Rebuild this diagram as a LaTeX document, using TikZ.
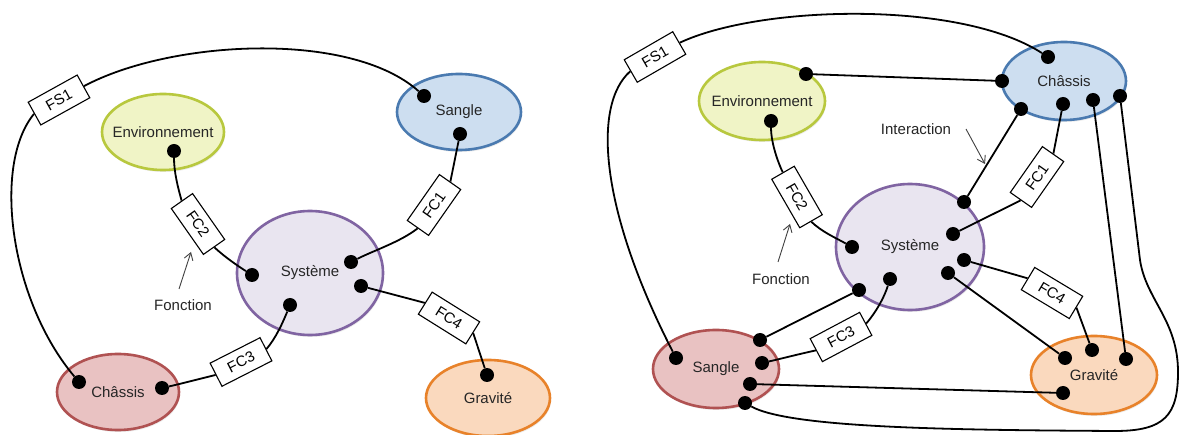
\documentclass[tikz,border=0pt]{standalone}
\usepackage{fontspec}
\setmainfont{Liberation Sans}
\usetikzlibrary{shapes.geometric,arrows.meta,shadows}
\definecolor{envF}{RGB}{240,244,198}
\definecolor{envB}{RGB}{184,200,62}
\definecolor{bluF}{RGB}{205,222,240}
\definecolor{bluB}{RGB}{74,122,176}
\definecolor{sysF}{RGB}{233,229,240}
\definecolor{sysB}{RGB}{128,100,162}
\definecolor{redF}{RGB}{233,194,194}
\definecolor{redB}{RGB}{176,82,82}
\definecolor{graF}{RGB}{250,217,190}
\definecolor{graB}{RGB}{232,130,42}
\newcommand\zw[1]{\makebox[0pt]{#1}}
\begin{document}
\begin{tikzpicture}[x=1pt,y=-1pt,
 ell/.style={ellipse, draw, line width=2.6pt, inner sep=0pt, font=\fontsize{15}{18}\selectfont, text=black!85,
   drop shadow={shadow xshift=1pt,shadow yshift=-2pt,opacity=0.15}},
 fbox/.style={draw, fill=white, line width=1.1pt, minimum width=56pt, minimum height=26pt, inner sep=2pt, font=\fontsize{15}{18}\selectfont},
 dot/.style={circle, fill=black, inner sep=0pt, minimum size=14pt},
 conn/.style={line width=1.8pt},
 lab/.style={font=\fontsize{15}{18}\selectfont, text=black!85},
 note/.style={line width=0.9pt, draw=black!75, -{Straight Barb[length=7pt,width=9pt]}}
]
\fill[white] (0,0) rectangle (1181,435);
\useasboundingbox (0,0) rectangle (1181,435);

% ---------------- LEFT PANEL ----------------
\node[ell, fill=envF, draw=envB, minimum width=122pt, minimum height=76pt] (envL) at (163,132) {\zw{Environnement}};
\node[ell, fill=bluF, draw=bluB, minimum width=124pt, minimum height=76pt] (sanL) at (459,112) {\zw{Sangle}};
\node[ell, fill=sysF, draw=sysB, minimum width=146pt, minimum height=124pt] (sysL) at (310,273) {\zw{Système}};
\node[ell, fill=redF, draw=redB, minimum width=122pt, minimum height=76pt] (chaL) at (118,392) {\zw{Châssis}};
\node[ell, fill=graF, draw=graB, minimum width=124pt, minimum height=76pt] (graL) at (488,398) {\zw{Gravité}};

\node[fbox, rotate=29] (FS1L) at (59,100) {FS1};
\node[fbox, rotate=-55] (FC2L) at (198,224) {FC2};
\node[fbox, rotate=55] (FC1L) at (434,205) {FC1};
\node[fbox, rotate=-32] (FC4L) at (449,318) {FC4};
\node[fbox, rotate=27] (FC3L) at (241,362) {FC3};

\node[dot] (envL-d) at (174,151) {};
\node[dot] (sanL-a) at (424,96) {};
\node[dot] (sanL-b) at (460,134) {};
\node[dot] (sysL-fc2) at (252,275) {};
\node[dot] (sysL-fc1) at (351,262) {};
\node[dot] (sysL-fc4) at (361,286) {};
\node[dot] (sysL-fc3) at (290,305) {};
\node[dot] (chaL-fs1) at (79,382) {};
\node[dot] (chaL-fc3) at (162,388) {};
\node[dot] (graL-d) at (487,375) {};

\draw[conn] (chaL-fs1) .. controls (10,300) and (-8,165) .. (FS1L.west);
\draw[conn] (FS1L.east) .. controls (170,40) and (350,30) .. (sanL-a);
\draw[conn] (envL-d) .. controls (174,172) and (178,188) .. (FC2L.west);
\draw[conn] (FC2L.east) .. controls (226,258) and (238,266) .. (sysL-fc2);
\draw[conn] (sanL-b) -- (FC1L.east);
\draw[conn] (FC1L.west) .. controls (400,242) and (375,250) .. (sysL-fc1);
\draw[conn] (sysL-fc4) -- (FC4L.west);
\draw[conn] (FC4L.east) -- (graL-d);
\draw[conn] (sysL-fc3) .. controls (283,322) and (276,338) .. (FC3L.east);
\draw[conn] (FC3L.west) .. controls (195,380) and (180,384) .. (chaL-fc3);

\node[lab] (fonL) at (183,305) {Fonction};
\coordinate (fonL-a) at (179,289);
\coordinate (fonL-b) at (191,252);
\draw[note] (fonL-a) -- (fonL-b);

% ---------------- RIGHT PANEL ----------------
\node[ell, fill=envF, draw=envB, minimum width=126pt, minimum height=78pt] (envR) at (762,101) {\zw{Environnement}};
\node[ell, fill=bluF, draw=bluB, minimum width=124pt, minimum height=78pt] (chaR) at (1064,81) {\zw{Châssis}};
\node[ell, fill=sysF, draw=sysB, minimum width=148pt, minimum height=126pt] (sysR) at (910,247) {\zw{Système}};
\node[ell, fill=redF, draw=redB, minimum width=126pt, minimum height=78pt] (sanR) at (716,369) {\zw{Sangle}};
\node[ell, fill=graF, draw=graB, minimum width=126pt, minimum height=78pt] (graR) at (1094,375) {\zw{Gravité}};

\node[fbox, rotate=30] (FS1R) at (655,57) {FS1};
\node[fbox, rotate=-60] (FC2R) at (797,197) {FC2};
\node[fbox, rotate=55] (FC1R) at (1037,177) {FC1};
\node[fbox, rotate=-31] (FC4R) at (1052,293) {FC4};
\node[fbox, rotate=28] (FC3R) at (841,337) {FC3};

\node[dot] (envR-a) at (806,74) {};
\node[dot] (envR-b) at (771,121) {};
\node[dot] (chaR-fs1) at (1048,57) {};
\node[dot] (chaR-env) at (1002,81) {};
\node[dot] (chaR-int) at (1021,109) {};
\node[dot] (chaR-fc1) at (1063,104) {};
\node[dot] (chaR-gra) at (1093,100) {};
\node[dot] (chaR-loop) at (1120,96) {};
\node[dot] (sysR-fc2) at (852,247) {};
\node[dot] (sysR-int) at (964,202) {};
\node[dot] (sysR-fc1) at (953,234) {};
\node[dot] (sysR-fc4) at (964,260) {};
\node[dot] (sysR-gra) at (948,273) {};
\node[dot] (sysR-fc3) at (890,279) {};
\node[dot] (sysR-san) at (859,290) {};
\node[dot] (sanR-fs1) at (676,358) {};
\node[dot] (sanR-sys) at (760,340) {};
\node[dot] (sanR-fc3) at (762,363) {};
\node[dot] (sanR-gra) at (750,384) {};
\node[dot] (sanR-loop) at (745,403) {};
\node[dot] (graR-sys) at (1065,358) {};
\node[dot] (graR-fc4) at (1092,350) {};
\node[dot] (graR-cha) at (1126,359) {};
\node[dot] (graR-san) at (1063,393) {};

\draw[conn] (sanR-fs1) .. controls (600,210) and (592,105) .. (FS1R.west);
\draw[conn] (FS1R.east) .. controls (760,5) and (960,0) .. (chaR-fs1);
\draw[conn] (envR-a) -- (chaR-env);
\draw[conn] (envR-b) .. controls (771,140) and (776,158) .. (FC2R.west);
\draw[conn] (FC2R.east) .. controls (822,232) and (836,238) .. (sysR-fc2);
\draw[conn] (chaR-int) -- (sysR-int);
\draw[conn] (chaR-fc1) -- (FC1R.east);
\draw[conn] (FC1R.west) -- (sysR-fc1);
\draw[conn] (sysR-fc4) -- (FC4R.west);
\draw[conn] (FC4R.east) -- (graR-fc4);
\draw[conn] (sysR-gra) -- (graR-sys);
\draw[conn] (sysR-fc3) .. controls (884,298) and (876,312) .. (FC3R.east);
\draw[conn] (FC3R.west) .. controls (795,355) and (780,359) .. (sanR-fc3);
\draw[conn] (sysR-san) -- (sanR-sys);
\draw[conn] (sanR-gra) -- (graR-san);
\draw[conn] (chaR-gra) -- (graR-cha);
\draw[conn] (chaR-loop) -- (1140,260) .. controls (1146,300) and (1178,320) .. (1178,372)
   .. controls (1178,415) and (1165,431) .. (1115,431)
   .. controls (950,430) and (790,428) .. (sanR-loop);

\node[lab] (fonR) at (781,279) {Fonction};
\coordinate (fonR-a) at (778,262);
\coordinate (fonR-b) at (790,224);
\draw[note] (fonR-a) -- (fonR-b);

\node[lab] (intR) at (916,129) {Interaction};
\coordinate (intR-a) at (966,129);
\coordinate (intR-b) at (985,164);
\draw[note] (intR-a) -- (intR-b);
\end{tikzpicture}
\end{document}
